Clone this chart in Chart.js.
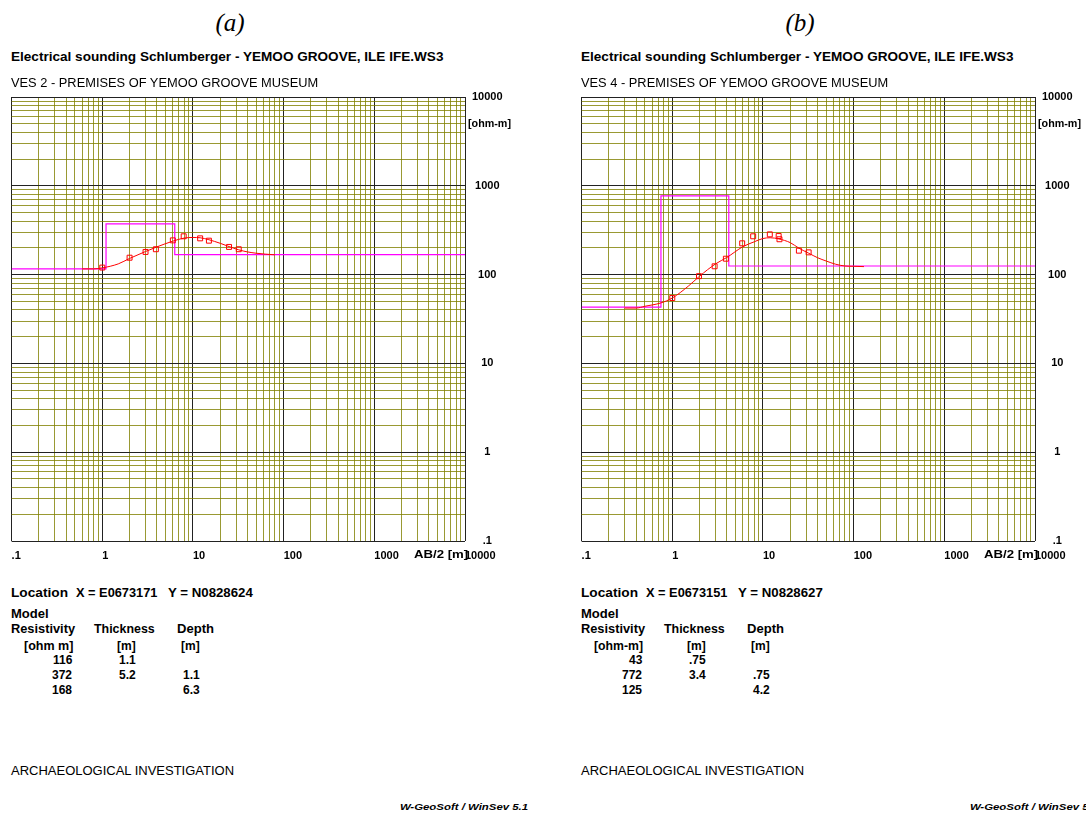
<!DOCTYPE html>
<html>
<head>
<meta charset="utf-8">
<script src="https://cdn.jsdelivr.net/npm/chart.js@4.4.0/dist/chart.umd.min.js"></script>
<style>
html, body { margin: 0; padding: 0; background: #fff; }
#page { position: relative; width: 1086px; height: 816px; overflow: hidden;
        font-family: "Liberation Sans", Arial, sans-serif; color: #000; }
.t { position: absolute; white-space: pre; line-height: 1; font-weight: bold; }
canvas { position: absolute; top: 80px; }
</style>
</head>
<body>
<div id="page">
  <canvas id="chartA" width="545" height="490" style="left:0px"></canvas>
  <canvas id="chartB" width="545" height="490" style="left:570px"></canvas>
</div>
<script>
// axis decades and their printed labels
const xTickValues = [0.1, 1, 10, 100, 1000, 10000];
const xTickLabels = ['.1', '1', '10', '100', '1000', '10000'];
const yTickValues = [0.1, 1, 10, 100, 1000, 10000];
const yTickLabels = ['.1', '1', '10', '100', '1000', '10000'];

// VES 2 - measured apparent resistivity
const abA  = [1, 2, 3, 3.9, 6, 7.9, 12, 15, 25, 32];
const rhoA = [120, 155, 180, 193, 243, 270, 256, 241, 205, 193];
// VES 2 - calculated curve
const curveAbA  = [0.6, 0.8, 1, 1.5, 2, 3, 4, 6, 8, 10, 12, 15, 20, 25, 32, 40, 50, 63, 80];
const curveRhoA = [116, 116, 119, 132, 152, 182, 205, 238, 258, 262, 260, 247, 225, 207, 190, 180, 174, 170, 167];
// VES 2 - layer model
const modelResA   = [116, 372, 168];
const modelThickA = [1.1, 5.2];
const modelDepthA = [1.1, 6.3];

// VES 4 - measured apparent resistivity
const abB  = [1, 1.97, 2.93, 3.9, 5.9, 7.8, 11.9, 14.9, 15.2, 24.9, 31.9];
const rhoB = [54.5, 96, 124, 151, 225, 270, 284, 272, 250, 186, 178];
// VES 4 - calculated curve
const curveAbB  = [0.3, 0.4, 0.5, 0.75, 1, 1.5, 2, 3, 4, 6, 8, 10, 12, 15, 20, 25, 32, 40, 50, 63, 80, 100, 130];
const curveRhoB = [42, 42, 44, 48, 54.5, 74, 96, 132, 156, 206, 234, 255, 260, 252, 229, 198, 174, 155, 142, 131, 125, 124, 123];
// VES 4 - layer model
const modelResB   = [43, 772, 125];
const modelThickB = [0.75, 3.4];
const modelDepthB = [0.75, 4.2];

const FONT = '"Liberation Sans", Arial, sans-serif';
const page = document.getElementById('page');

function gridValues(decades) {
    const v = [];
    decades.slice(0, -1).forEach(d => {
        for (let m = 1; m < 10; m++) v.push(d * m);
    });
    v.push(decades[decades.length - 1]);
    return v;
}
const isDecade = v => Math.abs(Math.log10(v) - Math.round(Math.log10(v))) < 1e-6;
const labelFor = (vals, labels) => v => {
    const i = vals.findIndex(t => Math.abs(t - v) / t < 1e-6);
    return i < 0 ? '' : labels[i];
};
const gridColor = c => (c.tick && isDecade(c.tick.value)) ? '#222' : 'rgba(128,128,0,0.8)';

function makeChart(id, ab, rho, cAb, cRho, res, depth) {
    const xMin = xTickValues[0], xMax = xTickValues[xTickValues.length - 1];
    const modelPts = [{ x: xMin, y: res[0] }];
    depth.forEach((d, i) => modelPts.push({ x: d, y: res[i + 1] }));
    modelPts.push({ x: xMax, y: res[res.length - 1] });

    return new Chart(document.getElementById(id), {
        type: 'scatter',
        data: {
            datasets: [
                {
                    label: 'measured',
                    data: ab.map((x, i) => ({ x, y: rho[i] })),
                    pointStyle: 'rect',
                    pointRadius: 3.5,
                    borderColor: '#ff0000',
                    backgroundColor: 'rgba(0,0,0,0)',
                    borderWidth: 1,
                    showLine: false
                },
                {
                    label: 'calculated',
                    type: 'line',
                    data: cAb.map((x, i) => ({ x, y: cRho[i] })),
                    borderColor: '#ff0000',
                    borderWidth: 1,
                    pointRadius: 0,
                    cubicInterpolationMode: 'monotone',
                    fill: false
                },
                {
                    label: 'model',
                    type: 'line',
                    data: modelPts,
                    stepped: 'before',
                    borderColor: '#ff00ff',
                    borderWidth: 1.2,
                    pointRadius: 0,
                    fill: false
                }
            ]
        },
        options: {
            responsive: false,
            animation: false,
            events: [],
            layout: { padding: { left: 11.6, top: 17, right: 0, bottom: 0 } },
            plugins: { legend: { display: false }, tooltip: { enabled: false } },
            scales: {
                x: {
                    type: 'logarithmic',
                    position: 'bottom',
                    min: xMin,
                    max: xMax,
                    afterBuildTicks: s => { s.ticks = gridValues(xTickValues).map(v => ({ value: v })); },
                    afterFit: s => { s.height = 29; },
                    grid: { color: gridColor, lineWidth: 1, drawTicks: false },
                    border: { display: false },
                    ticks: {
                        autoSkip: false, maxRotation: 0, minRotation: 0, align: 'start', padding: 8,
                        color: '#000', font: { family: FONT, size: 11, weight: 'bold' },
                        callback: labelFor(xTickValues, xTickLabels)
                    }
                },
                y: {
                    type: 'logarithmic',
                    position: 'right',
                    min: yTickValues[0],
                    max: yTickValues[yTickValues.length - 1],
                    afterBuildTicks: s => { s.ticks = gridValues(yTickValues).map(v => ({ value: v })); },
                    afterFit: s => { s.width = 80; },
                    grid: { color: gridColor, lineWidth: 1, drawTicks: false },
                    border: { display: false },
                    ticks: {
                        autoSkip: false, crossAlign: 'center', padding: 7,
                        color: '#000', font: { family: FONT, size: 11, weight: 'bold' },
                        callback: labelFor(yTickValues, yTickLabels)
                    }
                }
            }
        }
    });
}

// absolutely placed text, optionally squeezed to a target width
function txt(x, y, s, o = {}) {
    const d = document.createElement('div');
    d.className = 't';
    d.textContent = s;
    d.style.fontSize = (o.size || 12) + 'px';
    if (o.italic) d.style.fontStyle = 'italic';
    if (o.normal) d.style.fontWeight = 'normal';
    if (o.serif) d.style.fontFamily = '"Liberation Serif", "DejaVu Serif", serif';
    page.appendChild(d);
    const w = d.offsetWidth;
    const sx = o.w ? o.w / w : 1;
    const left = o.align === 'r' ? x - w : o.align === 'c' ? x - w / 2 : x;
    d.style.left = left + 'px';
    d.style.top = y + 'px';
    const ox = o.align === 'r' ? '100%' : o.align === 'c' ? '50%' : '0';
    d.style.transformOrigin = ox + ' 50%';
    d.style.transform = `translateY(-50%) scaleX(${sx})`;
}

const num = v => String(v).replace(/^0\./, '.');

function panel(ox, p) {
    txt(ox + 230, 22, p.tag, { size: 25, italic: true, normal: true, serif: true, align: 'c' });
    txt(ox + 11, 57, 'Electrical sounding Schlumberger - YEMOO GROOVE, ILE IFE.WS3', { w: 433 });
    txt(ox + 11, 83, p.ves, { w: p.vesW, normal: true });
    txt(ox + 468, 124, '[ohm-m]', { size: 10, w: 43 });
    txt(ox + 468, 554, 'AB/2 [m]', { size: 11, align: 'r', w: 54 });

    txt(ox + 11, 593, 'Location', { w: 57 });
    txt(ox + 76, 593, 'X = ' + p.locX, { w: 81 });
    txt(ox + 168, 593, 'Y = ' + p.locY, { w: 85 });

    txt(ox + 11, 614, 'Model', { w: 38 });
    txt(ox + 11, 629, 'Resistivity', { w: 64 });
    txt(ox + 94, 629, 'Thickness', { w: 61 });
    txt(ox + 177, 629, 'Depth', { w: 37 });
    txt(ox + 73, 646, p.unit, { align: 'r', w: 49 });
    txt(ox + 136, 646, '[m]', { align: 'r' });
    txt(ox + 200, 646, '[m]', { align: 'r' });
    p.res.forEach((r, i) => {
        const y = 660 + i * 15;
        txt(ox + 72, y, num(r), { align: 'r' });
        if (i < p.thick.length) txt(ox + 136, y, num(p.thick[i]), { align: 'r' });
        if (i > 0) txt(ox + 200, y, num(p.depth[i - 1]), { align: 'r' });
    });

    txt(ox + 11, 771, 'ARCHAEOLOGICAL INVESTIGATION', { w: 223, normal: true });
    txt(ox + 400, 807, 'W-GeoSoft / WinSev 5.1', { size: 9, italic: true, w: 128 });
}

panel(0, { tag: '(a)', ves: 'VES 2 - PREMISES OF YEMOO GROOVE MUSEUM', vesW: 307,
           locX: 'E0673171', locY: 'N0828624', unit: '[ohm m]',
           res: modelResA, thick: modelThickA, depth: modelDepthA });
panel(570, { tag: '(b)', ves: 'VES 4 - PREMISES OF YEMOO GROOVE MUSEUM', vesW: 307,
             locX: 'E0673151', locY: 'N0828627', unit: '[ohm-m]',
             res: modelResB, thick: modelThickB, depth: modelDepthB });

makeChart('chartA', abA, rhoA, curveAbA, curveRhoA, modelResA, modelDepthA);
makeChart('chartB', abB, rhoB, curveAbB, curveRhoB, modelResB, modelDepthB);
</script>
</body>
</html>
